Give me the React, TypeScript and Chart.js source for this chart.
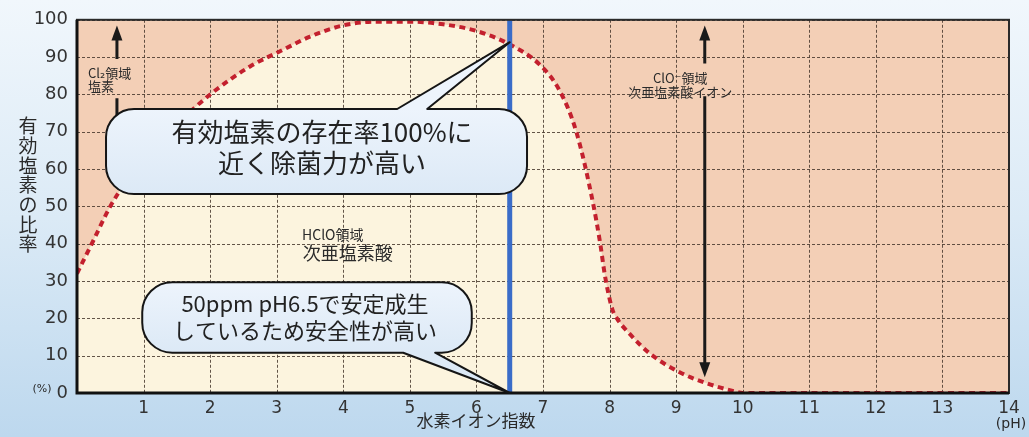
import React, { useEffect, useRef } from "react";
import { Chart, registerables } from "chart.js";

Chart.register(...registerables);

// ---- data ----
const phPoints = [0, 0.25, 0.5, 0.75, 1, 1.5, 2, 2.6, 3.1, 3.5, 4, 4.5, 5, 5.5, 6, 6.5, 6.95, 7.25, 7.5, 7.75, 7.86, 7.93, 8.04, 8.11, 8.31, 8.61, 9.06, 9.46, 9.91, 10, 11, 12, 13, 14];
const ratioPoints = [32, 41, 50, 57, 63, 72, 80, 87.5, 92, 95.5, 98.5, 99.5, 99.5, 98.8, 97, 93.4, 88, 81, 70, 51, 40, 31.5, 22.5, 20, 15.7, 10.5, 5.5, 2.6, 0.3, 0, 0, 0, 0, 0];
const boundaryPH = 6.5;
const xTitle = "水素イオン指数";
const yTitle = "有効塩素の比率";
const xUnit = "(pH)";
const yUnit = "(%)";
const bubbleTopText = ["有効塩素の存在率100%に", "近く除菌力が高い"];
const bubbleBottomText = ["50ppm pH6.5で安定成生", "しているため安全性が高い"];
const cl2Label = ["Cl₂領域", "塩素"];
const cloLabel = ["ClO⁻領域", "次亜塩素酸イオン"];
const hcloLabel = ["HClO領域", "次亜塩素酸"];

const W = 1029;
const H = 437;
const JP = '"Noto Sans CJK JP", "DejaVu Sans", sans-serif';
const SALMON = "#f3cfb6";
const CREAM = "#fcf4de";

function bubblePath(
  ctx: CanvasRenderingContext2D,
  x1: number, y1: number, x2: number, y2: number, r: number,
  side: "top" | "bottom", a: number, b: number, tx: number, ty: number
) {
  ctx.beginPath();
  ctx.moveTo(x1 + r, y1);
  if (side === "top") {
    ctx.lineTo(a, y1);
    ctx.lineTo(tx, ty);
    ctx.lineTo(b, y1);
  }
  ctx.lineTo(x2 - r, y1);
  ctx.arcTo(x2, y1, x2, y1 + r, r);
  ctx.lineTo(x2, y2 - r);
  ctx.arcTo(x2, y2, x2 - r, y2, r);
  if (side === "bottom") {
    ctx.lineTo(b, y2);
    ctx.lineTo(tx, ty);
    ctx.lineTo(a, y2);
  }
  ctx.lineTo(x1 + r, y2);
  ctx.arcTo(x1, y2, x1, y2 - r, r);
  ctx.lineTo(x1, y1 + r);
  ctx.arcTo(x1, y1, x1 + r, y1, r);
  ctx.closePath();
}

function arrowHead(ctx: CanvasRenderingContext2D, x: number, y: number, dir: number) {
  ctx.beginPath();
  ctx.moveTo(x, y);
  ctx.lineTo(x - 5.5, y - dir * 15);
  ctx.lineTo(x + 5.5, y - dir * 15);
  ctx.closePath();
  ctx.fill();
}

const decor = {
  id: "decor",
  beforeDraw(chart: any) {
    const { ctx, chartArea } = chart;
    const { left, top, right, bottom } = chartArea;
    ctx.save();
    ctx.fillStyle = SALMON;
    ctx.fillRect(left, top, right - left, bottom - top);
    ctx.restore();
  },
  beforeDatasetDraw(chart: any, args: any) {
    if (args.index !== 1) return;
    const { ctx, chartArea, scales } = chart;
    const { left, top, right, bottom } = chartArea;
    const xs = scales.x;
    const ys = scales.y;
    ctx.save();
    ctx.strokeStyle = "rgba(70,55,45,0.85)";
    ctx.lineWidth = 1;
    ctx.setLineDash([3, 2]);
    xs.ticks.forEach((t: any) => {
      const X = Math.round(xs.getPixelForValue(t.value)) + 0.5;
      ctx.beginPath();
      ctx.moveTo(X, top);
      ctx.lineTo(X, bottom);
      ctx.stroke();
    });
    ys.ticks.forEach((t: any) => {
      const Y = Math.round(ys.getPixelForValue(t.value)) + 0.5;
      ctx.beginPath();
      ctx.moveTo(left, Y);
      ctx.lineTo(right, Y);
      ctx.stroke();
    });
    ctx.restore();
  },
  afterDraw(chart: any) {
    const { ctx, chartArea, scales } = chart;
    const { left, top, right, bottom } = chartArea;
    const px = (v: number) => scales.x.getPixelForValue(v);
    const py = (v: number) => scales.y.getPixelForValue(v);
    ctx.save();

    // plot frame
    ctx.strokeStyle = "#2a2a2a";
    ctx.lineWidth = 2;
    ctx.strokeRect(left, top, right - left, bottom - top);
    ctx.strokeStyle = "#111";
    ctx.lineWidth = 3;
    ctx.beginPath();
    ctx.moveTo(left, top);
    ctx.lineTo(left, bottom);
    ctx.lineTo(right, bottom);
    ctx.stroke();

    // arrows
    ctx.strokeStyle = "#1a1a1a";
    ctx.fillStyle = "#1a1a1a";
    ctx.lineWidth = 3;
    const ax1 = px(0.6);
    arrowHead(ctx, ax1, py(98.5), -1);
    ctx.beginPath();
    ctx.moveTo(ax1, py(98.5) + 12);
    ctx.lineTo(ax1, py(89.5));
    ctx.moveTo(ax1, py(79));
    ctx.lineTo(ax1, py(74));
    ctx.stroke();

    const ax2 = px(9.43);
    arrowHead(ctx, ax2, py(98.5), -1);
    arrowHead(ctx, ax2, py(4.2), 1);
    ctx.beginPath();
    ctx.moveTo(ax2, py(98.5) + 12);
    ctx.lineTo(ax2, py(88.3));
    ctx.moveTo(ax2, py(79.5));
    ctx.lineTo(ax2, py(4.2) - 12);
    ctx.stroke();

    // region labels
    ctx.fillStyle = "#2b2b2b";
    ctx.textBaseline = "middle";
    ctx.textAlign = "left";
    ctx.font = `13px ${JP}`;
    ctx.fillText(cl2Label[0], px(0.165), py(85.6));
    ctx.fillText(cl2Label[1], px(0.165), py(82.2));
    ctx.textAlign = "center";
    ctx.fillText(cloLabel[0], px(9.06), py(84.3));
    ctx.fillText(cloLabel[1], px(9.06), py(80.6));
    ctx.textAlign = "left";
    ctx.font = `14px ${JP}`;
    ctx.fillText(hcloLabel[0], px(3.38), py(42.5));
    ctx.font = `18px ${JP}`;
    ctx.fillText(hcloLabel[1], px(3.39), py(37.5));

    // bubbles
    const drawBubble = (
      x1: number, y1: number, x2: number, y2: number, r: number,
      side: "top" | "bottom", a: number, b: number, tx: number, ty: number
    ) => {
      const g = ctx.createLinearGradient(0, y1, 0, y2);
      g.addColorStop(0, "#edf4fc");
      g.addColorStop(1, "#dce9f6");
      bubblePath(ctx, x1, y1, x2, y2, r, side, a, b, tx, ty);
      ctx.fillStyle = g;
      ctx.fill();
      ctx.lineWidth = 2;
      ctx.strokeStyle = "#151515";
      ctx.lineJoin = "round";
      ctx.stroke();
    };
    drawBubble(px(0.436), py(76.1), px(6.76), py(53.3), 28, "top", px(4.81), px(5.26), px(boundaryPH), py(94));
    drawBubble(px(0.98), py(29.7), px(5.93), py(10.8), 30, "bottom", px(4.9), px(5.38), px(boundaryPH), py(0));

    ctx.fillStyle = "#222";
    ctx.textAlign = "center";
    ctx.font = `26px ${JP}`;
    ctx.fillText(bubbleTopText[0], 322, 132);
    ctx.fillText(bubbleTopText[1], 322, 163);
    ctx.font = `22px ${JP}`;
    ctx.fillText(bubbleBottomText[0], 305, 304);
    ctx.fillText(bubbleBottomText[1], 305, 331);

    // axis titles
    ctx.fillStyle = "#2a2a2a";
    ctx.font = `19px ${JP}`;
    const chars = Array.from(yTitle);
    chars.forEach((c, i) => ctx.fillText(c, 28, 126 + i * 19.7));
    ctx.font = `17px ${JP}`;
    ctx.fillText(xTitle, 476, 421);
    ctx.font = `14px "DejaVu Sans", sans-serif`;
    ctx.fillText(xUnit, 1011, 424);
    ctx.font = `11px "DejaVu Sans", sans-serif`;
    ctx.fillText(yUnit, 42, 389);
    ctx.restore();
  },
};

export default function App() {
  const ref = useRef<HTMLCanvasElement | null>(null);
  useEffect(() => {
    if (!ref.current) return;
    const chart = new Chart(ref.current, {
      type: "line",
      data: {
        datasets: [
          {
            data: [{ x: boundaryPH, y: 0 }, { x: boundaryPH, y: 100 }],
            borderColor: "#3a6cc8",
            borderWidth: 5,
            pointRadius: 0,
            fill: false,
          },
          {
            data: phPoints.map((p, i) => ({ x: p, y: ratioPoints[i] })),
            borderColor: "#c3202e",
            borderWidth: 4,
            borderDash: [6, 4.5],
            borderCapStyle: "butt",
            pointRadius: 0,
            fill: "origin",
            backgroundColor: CREAM,
            cubicInterpolationMode: "monotone",
          },
        ],
      } as any,
      options: {
        animation: false,
        responsive: false,
        devicePixelRatio: 1,
        layout: { padding: { left: 0, top: 12, right: 20, bottom: 0 } },
        plugins: { legend: { display: false }, tooltip: { enabled: false } },
        scales: {
          x: {
            type: "linear",
            min: 0,
            max: 14,
            ticks: {
              stepSize: 1,
              autoSkip: false,
              maxRotation: 0,
              padding: 5,
              color: "#333",
              font: { family: "DejaVu Sans", size: 17 },
              callback: (v: any) => (Number(v) === 0 ? "" : String(v)),
            },
            grid: { display: false, drawTicks: false },
            border: { display: false },
            afterFit: (s: any) => {
              s.height = 44;
            },
          },
          y: {
            type: "linear",
            min: 0,
            max: 100,
            ticks: {
              stepSize: 10,
              padding: 9,
              color: "#333",
              font: { family: "DejaVu Sans", size: 18 },
            },
            grid: { display: false, drawTicks: false },
            border: { display: false },
            afterFit: (s: any) => {
              s.width = 77;
            },
          },
        },
      } as any,
      plugins: [decor],
    });
    return () => chart.destroy();
  }, []);
  return (
    <div
      style={{
        position: "fixed",
        left: 0,
        top: 0,
        width: W,
        height: H,
        background: "linear-gradient(to bottom, #f1f7fc 0%, #dbeaf6 50%, #bdd8ee 100%)",
      }}
    >
      <canvas ref={ref} width={W} height={H} style={{ display: "block", width: W, height: H }} />
    </div>
  );
}
